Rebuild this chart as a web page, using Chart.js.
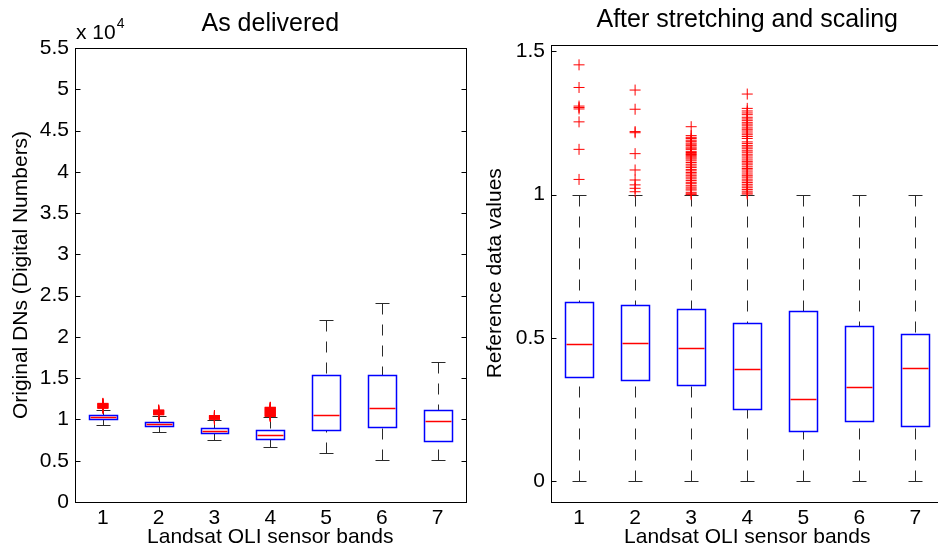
<!DOCTYPE html>
<html>
<head>
<meta charset="utf-8">
<script src="https://cdn.jsdelivr.net/npm/chart.js@4.4.1/dist/chart.umd.min.js"></script>
<style>
  html, body { margin: 0; padding: 0; background: #fff; overflow: hidden; }
  .panel { position: absolute; top: 0; }
</style>
</head>
<body>
<div class="panel" style="left:0"><canvas id="rawChart" width="472" height="546"></canvas></div>
<div class="panel" style="left:470px"><canvas id="refChart" width="480" height="546"></canvas></div>
<script>
const bands = [1, 2, 3, 4, 5, 6, 7];

// As delivered: digital numbers per OLI band
const rawTicks = [0, 5000, 10000, 15000, 20000, 25000, 30000, 35000, 40000, 45000, 50000, 55000];
const rawLower = [9380, 8470, 7540, 6720, 5900, 5140, 5100];
const rawQ1 = [10040, 9190, 8330, 7630, 8680, 9140, 7330];
const rawMedian = [10300, 9460, 8640, 8120, 10490, 11330, 9770];
const rawQ3 = [10550, 9710, 8970, 8720, 15420, 15420, 11200];
const rawUpper = [11180, 10450, 9900, 10300, 22030, 24050, 16980];
const rawOutliers = [
  [11950, 11910, 11870, 11820, 11790, 11740, 11700, 11650, 11610, 11580, 11520, 11480, 11440, 11380, 11350],
  [11150, 11100, 11070, 11020, 10980, 10950, 10900, 10860, 10810, 10780, 10740, 10690, 10650, 10610, 10560],
  [10470, 10450, 10410, 10380, 10340, 10320, 10280, 10260, 10220, 10200, 10160, 10140, 10100, 10050, 10010],
  [11480, 11450, 11400, 11370, 11320, 11290, 11240, 11200, 11170, 11120, 11090, 11040, 11000, 10970,
   10920, 10880, 10850, 10800, 10760, 10730, 10680, 10640, 10610, 10560, 10520, 10490, 10440, 10400, 10360],
  [], [], []
];

// After stretching and scaling
const refTicks = [0, 0.5, 1, 1.5];
const refLower = [0, 0, 0, 0, 0, 0, 0];
const refQ1 = [0.363, 0.354, 0.334, 0.253, 0.175, 0.211, 0.192];
const refMedian = [0.479, 0.481, 0.465, 0.391, 0.287, 0.328, 0.395];
const refQ3 = [0.626, 0.616, 0.601, 0.552, 0.592, 0.543, 0.515];
const refUpper = [1, 1, 1, 1, 1, 1, 1];
const refOutliers = [
  [1.453, 1.374, 1.309, 1.304, 1.299, 1.254, 1.158, 1.053],
  [1.365, 1.298, 1.220, 1.216, 1.143, 1.086, 1.051, 1.034, 1.022, 1.010],
  [1.237, 1.206, 1.2, 1.196, 1.19, 1.186, 1.18, 1.176, 1.171, 1.166, 1.162, 1.158, 1.151, 1.147,
   1.143, 1.14, 1.136, 1.132, 1.128, 1.124, 1.118, 1.112, 1.106, 1.1, 1.095, 1.088, 1.083, 1.077,
   1.072, 1.066, 1.061, 1.055, 1.049, 1.043, 1.038, 1.031, 1.026, 1.02, 1.016, 1.008, 1.003, 1.0],
  [1.351, 1.301, 1.292, 1.285, 1.279, 1.27, 1.264, 1.258, 1.251, 1.246, 1.24, 1.233, 1.228, 1.222,
   1.215, 1.209, 1.203, 1.196, 1.184, 1.178, 1.171, 1.166, 1.16, 1.153, 1.148, 1.141, 1.135, 1.128,
   1.121, 1.115, 1.11, 1.104, 1.097, 1.091, 1.086, 1.079, 1.072, 1.066, 1.061, 1.054, 1.048, 1.042,
   1.036, 1.03, 1.024, 1.018, 1.012, 1.006, 1.002],
  [], [], []
];

const FONT = "'Liberation Sans', Arial, Helvetica, sans-serif";

function crisp(v) {
  return Math.round(v) + 0.5;
}

function outlierPoints(lists) {
  const pts = [];
  lists.forEach((vals, i) => vals.forEach(v => pts.push({ x: bands[i], y: v })));
  return pts;
}

// whiskers, caps, boxes and medians, placed through the chart scales
function boxPlotPlugin(stats) {
  return {
    id: "boxPlot",
    beforeDatasetsDraw(chart) {
      const { ctx, scales: { x, y } } = chart;
      ctx.save();
      bands.forEach((band, i) => {
        const cx = crisp(x.getPixelForValue(band));
        const boxL = crisp(x.getPixelForValue(band - 0.25));
        const boxR = crisp(x.getPixelForValue(band + 0.25));
        const capL = crisp(x.getPixelForValue(band - 0.125));
        const capR = crisp(x.getPixelForValue(band + 0.125));
        const yLo = crisp(y.getPixelForValue(stats.lower[i]));
        const yQ1 = crisp(y.getPixelForValue(stats.q1[i]));
        const yMed = crisp(y.getPixelForValue(stats.median[i]));
        const yQ3 = crisp(y.getPixelForValue(stats.q3[i]));
        const yHi = crisp(y.getPixelForValue(stats.upper[i]));

        ctx.lineWidth = 1;
        ctx.strokeStyle = "#2a2a2a";
        ctx.setLineDash([11, 10]);
        ctx.beginPath();
        ctx.moveTo(cx, yHi);
        ctx.lineTo(cx, yQ3);
        ctx.moveTo(cx, yLo);
        ctx.lineTo(cx, yQ1);
        ctx.stroke();

        ctx.setLineDash([]);
        ctx.beginPath();
        ctx.moveTo(capL, yHi);
        ctx.lineTo(capR, yHi);
        ctx.moveTo(capL, yLo);
        ctx.lineTo(capR, yLo);
        ctx.stroke();

        ctx.lineWidth = 1.5;
        ctx.strokeStyle = "#0000ff";
        ctx.strokeRect(boxL, yQ3, boxR - boxL, yQ1 - yQ3);

        ctx.strokeStyle = "#ff0000";
        ctx.beginPath();
        ctx.moveTo(boxL + 1, yMed);
        ctx.lineTo(boxR - 1, yMed);
        ctx.stroke();
      });
      ctx.restore();
    }
  };
}

// axes box, inward ticks, title and the exponent note
function framePlugin(cfg) {
  return {
    id: "frame",
    afterDraw(chart) {
      const { ctx, chartArea: a, scales: { y } } = chart;
      const l = crisp(a.left), r = crisp(a.right), t = crisp(a.top), b = crisp(a.bottom);
      ctx.save();
      ctx.strokeStyle = "#000";
      ctx.lineWidth = 1;
      ctx.strokeRect(l, t, r - l, b - t);
      ctx.beginPath();
      y.ticks.forEach(tk => {
        const py = crisp(y.getPixelForValue(tk.value));
        ctx.moveTo(l, py);
        ctx.lineTo(l + 5, py);
        ctx.moveTo(r, py);
        ctx.lineTo(r - 5, py);
      });
      ctx.stroke();

      ctx.fillStyle = "#000";
      ctx.textBaseline = "alphabetic";
      ctx.textAlign = "center";
      ctx.font = `25px ${FONT}`;
      ctx.fillText(cfg.title, (a.left + a.right) / 2, a.top - 17.4);

      if (cfg.exponent) {
        ctx.textAlign = "left";
        ctx.font = `21px ${FONT}`;
        const base = "x 10";
        ctx.fillText(base, a.left + 1, a.top - 9);
        const w = ctx.measureText(base).width;
        ctx.font = `14px ${FONT}`;
        ctx.fillText(cfg.exponent, a.left + 2 + w, a.top - 20);
      }
      ctx.restore();
    }
  };
}

function createBoxChart(canvasId, cfg) {
  const canvas = document.getElementById(canvasId);
  if (!canvas) return null;
  const ctx = canvas.getContext("2d");
  if (!ctx) return null;

  const tickFont = { family: FONT, size: 21 };

  return new Chart(ctx, {
    type: "scatter",
    data: {
      datasets: [{
        data: outlierPoints(cfg.outliers),
        pointStyle: "cross",
        pointRadius: 5.5,
        pointBorderWidth: 1,
        pointBorderColor: "#ff0000",
        pointBackgroundColor: "#ff0000",
        showLine: false
      }]
    },
    options: {
      responsive: false,
      animation: false,
      devicePixelRatio: 1,
      events: [],
      layout: { padding: { top: cfg.top, right: cfg.right, left: 0, bottom: 0 } },
      plugins: {
        legend: { display: false },
        tooltip: { enabled: false },
        title: { display: false }
      },
      scales: {
        x: {
          type: "linear",
          min: 0.5,
          max: 7.5,
          afterBuildTicks: s => { s.ticks = bands.map(v => ({ value: v })); },
          afterFit: s => { s.height = 44; },
          grid: { display: false, drawTicks: false },
          border: { display: false },
          ticks: { color: "#000", font: tickFont, padding: 4, maxRotation: 0, autoSkip: false },
          title: {
            display: true,
            text: "Landsat OLI sensor bands",
            color: "#000",
            font: { family: FONT, size: 21, lineHeight: 1 },
            padding: { top: 0, bottom: -2 }
          }
        },
        y: {
          type: "linear",
          min: cfg.yMin,
          max: cfg.yMax,
          afterBuildTicks: s => { s.ticks = cfg.yTicks.map(v => ({ value: v })); },
          afterFit: s => { s.width = cfg.yWidth; },
          grid: { display: false, drawTicks: false },
          border: { display: false },
          ticks: { color: "#000", font: tickFont, padding: 6, callback: cfg.tickLabel },
          title: {
            display: true,
            text: cfg.yTitle,
            color: "#000",
            font: { family: FONT, size: 21, lineHeight: 1.2 },
            padding: { top: cfg.yTitlePad, bottom: 0 }
          }
        }
      }
    },
    plugins: [boxPlotPlugin(cfg.stats), framePlugin(cfg)]
  });
}

createBoxChart("rawChart", {
  title: "As delivered",
  exponent: "4",
  top: 48,
  right: 2,
  yWidth: 75,
  yMin: 0,
  yMax: 55000,
  yTicks: rawTicks,
  tickLabel: v => String(v / 10000),
  yTitle: "Original DNs (Digital Numbers)",
  yTitlePad: 9,
  outliers: rawOutliers,
  stats: { lower: rawLower, q1: rawQ1, median: rawMedian, q3: rawQ3, upper: rawUpper }
});

createBoxChart("refChart", {
  title: "After stretching and scaling",
  top: 44.5,
  right: 2.3,
  yWidth: 81,
  yMin: -0.073,
  yMax: 1.524,
  yTicks: refTicks,
  tickLabel: v => String(v),
  yTitle: "Reference data values",
  yTitlePad: 12.4,
  outliers: refOutliers,
  stats: { lower: refLower, q1: refQ1, median: refMedian, q3: refQ3, upper: refUpper }
});
</script>
</body>
</html>
